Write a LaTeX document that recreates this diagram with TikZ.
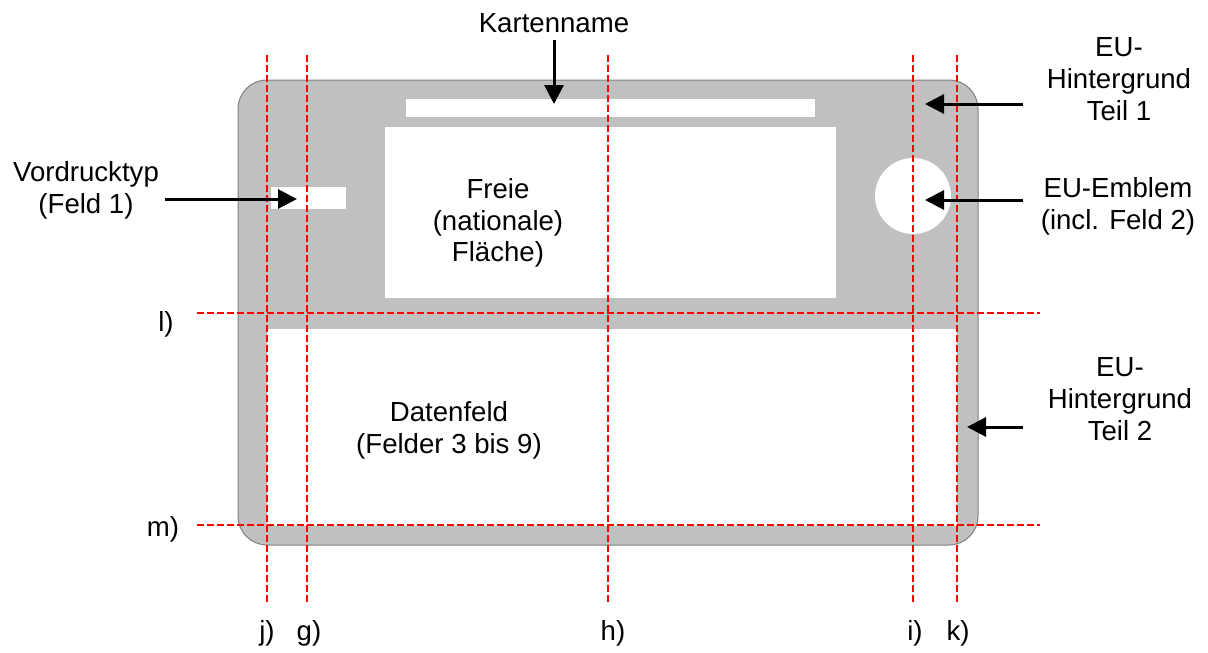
\documentclass[tikz,border=0pt]{standalone}
\usepackage{fontspec}
\setmainfont{Liberation Sans}
\usetikzlibrary{arrows.meta}
\definecolor{cardgray}{RGB}{192,192,192}
\definecolor{edgegray}{RGB}{128,128,128}
\begin{document}
\begin{tikzpicture}[x=1pt,y=-1pt,
  txt/.style={inner sep=0pt,align=center,font=\fontsize{27.6}{31.8}\selectfont},
  guide/.style={draw=red,line width=2.3pt,dash pattern=on 7pt off 3pt},
  pointer/.style={draw=black,line width=3pt,-{Triangle[length=19pt,width=19pt]}},
  whitebox/.style={fill=white,draw=none}]
\useasboundingbox (0,0) rectangle (1208,653);
% card
\draw[fill=cardgray,draw=edgegray,line width=1pt,rounded corners=29pt] (238,80) rectangle (978,545);
\fill[white] (267,329) rectangle (957,526);
\fill[white] (406,99) rectangle (815,117);
\fill[white] (385,127) rectangle (836,298);
\fill[white] (271,187) rectangle (346,209);
\fill[white] (913,196) circle (38);
% texts
\node[txt] (free) at (498,223) {Freie\\(nationale)\\Fläche)};
\node[txt] (data) at (449,430) {Datenfeld\\(Felder 3 bis 9)};
\node[txt,anchor=base] (kn) at (554,32) {Kartenname};
\node[txt] (vt) at (86,190) {Vordrucktyp\\(Feld 1)};
\node[txt] (bg1) at (1119,79) {EU-\\Hintergrund\\Teil 1};
\node[txt] (em) at (1118,206) {EU-Emblem\\(incl. Feld 2)};
\node[txt] (bg2) at (1120,399) {EU-\\Hintergrund\\Teil 2};
% guides
\coordinate (jt) at (267,55); \coordinate (jb) at (267,604);
\coordinate (gt) at (307,55); \coordinate (gb) at (307,604);
\coordinate (ht) at (608,55); \coordinate (hb) at (608,604);
\coordinate (it) at (913,55); \coordinate (ib) at (913,604);
\coordinate (kt) at (957,55); \coordinate (kb) at (957,604);
\coordinate (ll) at (197,313); \coordinate (lr) at (1040,313);
\coordinate (ml) at (197,525); \coordinate (mr) at (1040,525);
\draw[guide] (jt) -- (jb);
\draw[guide] (gt) -- (gb);
\draw[guide] (ht) -- (hb);
\draw[guide] (it) -- (ib);
\draw[guide] (kt) -- (kb);
\draw[guide] (ll) -- (lr);
\draw[guide] (ml) -- (mr);
\node[txt,anchor=base] (lj) at (267,640) {j)};
\node[txt,anchor=base] (lg) at (309,640) {g)};
\node[txt,anchor=base] (lh) at (613,640) {h)};
\node[txt,anchor=base] (li) at (915,640) {i)};
\node[txt,anchor=base] (lk) at (958,640) {k)};
\node[txt,anchor=base] (lm) at (163,536) {m)};
\node[txt,anchor=base] (lll) at (166,331) {l)};
% pointers
\coordinate (knS) at (554,40); \coordinate (knE) at (554,104);
\coordinate (vtS) at (165,199); \coordinate (vtE) at (297,199);
\coordinate (bg1S) at (1023,104); \coordinate (bg1E) at (925,104);
\coordinate (emS) at (1023,200); \coordinate (emE) at (925,200);
\coordinate (bg2S) at (1023,427); \coordinate (bg2E) at (967,427);
\draw[pointer] (knS) -- (knE);
\draw[pointer] (vtS) -- (vtE);
\draw[pointer] (bg1S) -- (bg1E);
\draw[pointer] (emS) -- (emE);
\draw[pointer] (bg2S) -- (bg2E);
\end{tikzpicture}
\end{document}
